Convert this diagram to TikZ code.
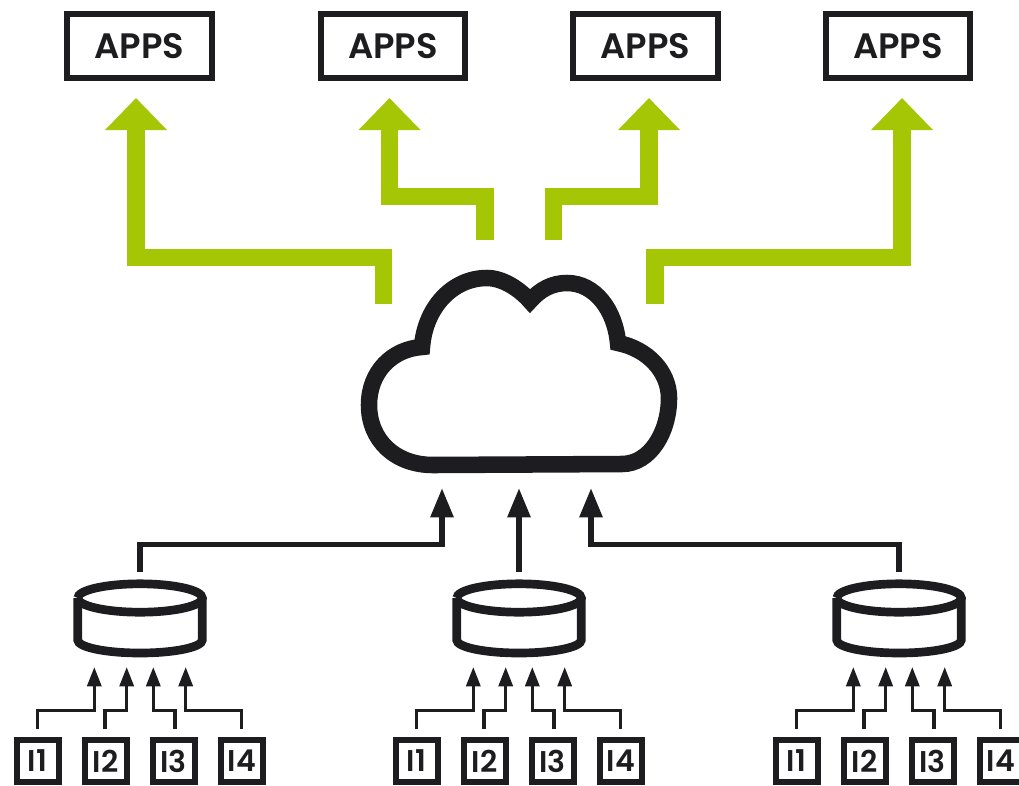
\documentclass[tikz,border=0pt]{standalone}
\usepackage{fontspec}
\setmainfont{Poppins SemiBold}
\usetikzlibrary{arrows.meta,calc}
\definecolor{inkc}{RGB}{29,29,31}
\definecolor{greenc}{RGB}{165,198,5}
\tikzset{
  x=0.75pt,y=-0.75pt,
  appbox/.style={draw=inkc,line width=4.4pt,minimum width=108.5pt,minimum height=47.5pt,inner sep=0pt,text=inkc,font=\fontsize{26.5}{28}\selectfont},
  inbox/.style={draw=inkc,line width=4.5pt,minimum width=31.5pt,minimum height=31.5pt,inner sep=0pt,text=inkc,font=\fontsize{22.5}{24}\selectfont},
  greenarrow/.style={draw=greenc,line width=13pt,-{Triangle[length=24pt,width=45pt,fill=greenc]}},
  bigarrow/.style={draw=inkc,line width=4.4pt,-{Triangle[length=22pt,width=16.5pt,fill=inkc]}},
  smallarrow/.style={draw=inkc,line width=2.5pt,-{Triangle[length=14.5pt,width=10.5pt,fill=inkc]}},
  cloudline/.style={draw=inkc,line width=12.4pt,line join=miter,miter limit=10},
  dbline/.style={draw=inkc,line width=6.5pt},
}
\begin{document}
\begin{tikzpicture}
\useasboundingbox (0,0) rectangle (1019,785);
% apps
\node[appbox] (app1) at (139.5,46) {\raisebox{-1.5pt}{APPS}};
\node[appbox] (app2) at (393,46) {\raisebox{-1.5pt}{APPS}};
\node[appbox] (app3) at (645.5,46) {\raisebox{-1.5pt}{APPS}};
\node[appbox] (app4) at (898,46) {\raisebox{-1.5pt}{APPS}};
% green connectors
\coordinate (t1) at (136,98); \coordinate (t2) at (389.5,98);
\coordinate (t3) at (649,98); \coordinate (t4) at (902,98);
\coordinate (s1) at (383.5,304); \coordinate (s2) at (485,240);
\coordinate (s3) at (553.5,240); \coordinate (s4) at (655,304);
\draw[greenarrow] (s1) -- (s1 |- 0,257.5) -- (t1 |- 0,257.5) -- (t1);
\draw[greenarrow] (s2) -- (s2 |- 0,196.5) -- (t2 |- 0,196.5) -- (t2);
\draw[greenarrow] (s3) -- (s3 |- 0,196.5) -- (t3 |- 0,196.5) -- (t3);
\draw[greenarrow] (s4) -- (s4 |- 0,257.5) -- (t4 |- 0,257.5) -- (t4);
% cloud
\draw[cloudline] (433,465)
  .. controls (395,465) and (369,440) .. (369,405)
  .. controls (369,372) and (392,349) .. (422,347)
  .. controls (425,308) and (452,278) .. (487,278)
  .. controls (503,278) and (520,289.5) .. (530,301)
  .. controls (540,289.5) and (552,283) .. (567,283)
  .. controls (595,283) and (615,310) .. (618,343)
  .. controls (648,349) and (669,372) .. (669,398)
  .. controls (669,432) and (650,464) .. (622,464)
  -- cycle;
% cloud inputs
\coordinate (c1) at (442,488); \coordinate (c2) at (519,488); \coordinate (c3) at (591,488);
% groups
\foreach \g/\dx in {1/0,2/379,3/759}{
  \begin{scope}[shift={(\dx,0)}]
    \coordinate (db\g top) at (140,572);
    \draw[dbline] (77.7,598) arc[start angle=180,end angle=-180,x radius=62.3,y radius=14.2];
    \draw[dbline] (77.7,598) -- (77.7,640) arc[start angle=180,end angle=0,x radius=62.3,y radius=13] -- (202.3,598);
    \node[inbox] (i\g a) at (37.5,761) {I1};
    \node[inbox] (i\g b) at (105.5,761) {I2};
    \node[inbox] (i\g c) at (173.5,761) {I3};
    \node[inbox] (i\g d) at (242,761) {I4};
    \coordinate (p\g a) at (94.3,667); \coordinate (p\g b) at (126.7,667);
    \coordinate (p\g c) at (153.3,667); \coordinate (p\g d) at (185.7,667);
    \coordinate (q\g a) at (37.7,729); \coordinate (q\g b) at (105,729);
    \coordinate (q\g c) at (175,729); \coordinate (q\g d) at (241.7,729);
    \draw[smallarrow] (q\g a) -- (q\g a |- 0,710.7) -- (p\g a |- 0,710.7) -- (p\g a);
    \draw[smallarrow] (q\g b) -- (q\g b |- 0,710.7) -- (p\g b |- 0,710.7) -- (p\g b);
    \draw[smallarrow] (q\g c) -- (q\g c |- 0,710.7) -- (p\g c |- 0,710.7) -- (p\g c);
    \draw[smallarrow] (q\g d) -- (q\g d |- 0,710.7) -- (p\g d |- 0,710.7) -- (p\g d);
  \end{scope}
}
\draw[bigarrow] (db1top) -- (db1top |- 0,544.5) -- (c1 |- 0,544.5) -- (c1);
\draw[bigarrow] (c2 |- db2top) -- (c2);
\draw[bigarrow] (db3top) -- (db3top |- 0,544.5) -- (c3 |- 0,544.5) -- (c3);
\end{tikzpicture}
\end{document}
